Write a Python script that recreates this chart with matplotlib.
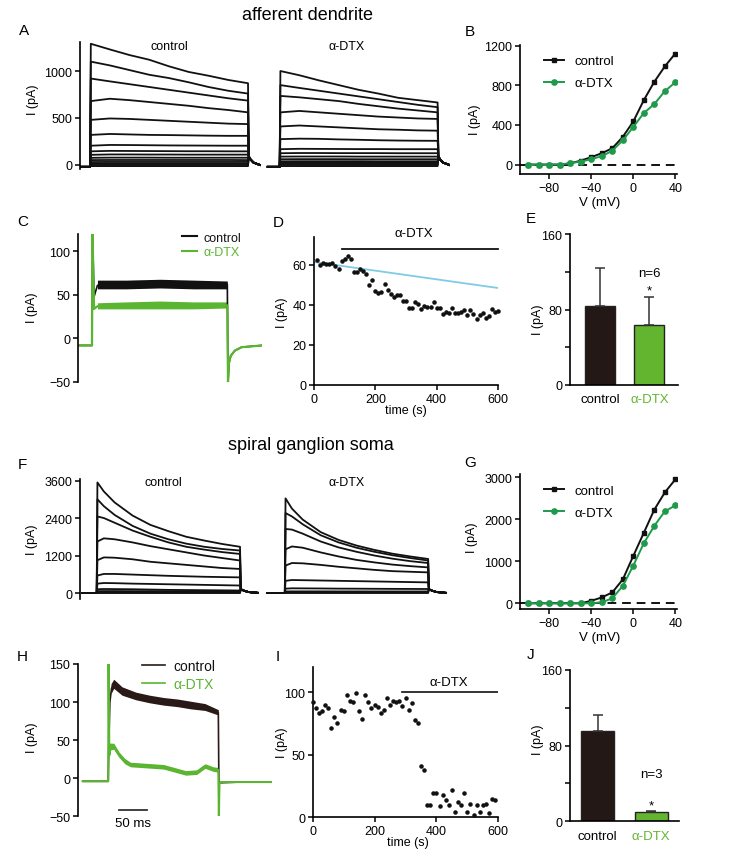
import matplotlib
matplotlib.use('Agg')
import matplotlib.pyplot as plt
from matplotlib.lines import Line2D

plt.rcParams['font.family'] = ['Liberation Sans', 'DejaVu Sans']
plt.rcParams['font.size'] = 9

# ---------------- DATA ----------------
# Panel A: afferent dendrite current traces (pA) sampled at times (ms)
a_times = [0, 25, 50, 75, 100, 125, 150, 175, 200]
a_ctrl = [
    [1290, 1230, 1170, 1120, 1050, 990, 950, 905, 870],
    [1100, 1060, 1010, 960, 925, 880, 830, 790, 760],
    [920, 890, 860, 830, 800, 770, 740, 710, 685],
    [680, 705, 690, 670, 650, 630, 605, 585, 560],
    [480, 495, 490, 480, 470, 460, 450, 440, 435],
    [320, 330, 325, 320, 318, 315, 312, 310, 310],
    [205, 213, 212, 210, 208, 207, 206, 205, 205],
    [145, 150, 149, 148, 147, 146, 146, 145, 145],
    [108, 112, 112, 111, 111, 110, 110, 110, 110],
    [76, 78, 78, 78, 77, 77, 77, 77, 77],
    [52, 53, 53, 53, 53, 53, 53, 53, 52],
    [31, 32, 32, 32, 32, 32, 32, 32, 32],
    [13, 14, 14, 14, 14, 14, 14, 14, 14],
    [0, 0, 0, 0, 0, 0, 0, 0, 0],
    [-12, -12, -12, -12, -12, -12, -12, -12, -12],
]
a_dtx = [
    [1000, 955, 900, 850, 800, 760, 715, 690, 665],
    [850, 820, 790, 760, 730, 700, 670, 640, 615],
    [735, 720, 700, 680, 650, 625, 600, 580, 560],
    [560, 575, 560, 545, 530, 515, 505, 495, 490],
    [410, 420, 410, 400, 390, 380, 375, 368, 365],
    [275, 280, 278, 272, 268, 263, 260, 258, 257],
    [168, 172, 171, 170, 169, 169, 168, 168, 168],
    [125, 127, 127, 126, 126, 126, 125, 125, 125],
    [89, 90, 90, 90, 89, 89, 89, 89, 89],
    [61, 62, 62, 62, 61, 61, 61, 61, 61],
    [39, 40, 40, 40, 40, 39, 39, 39, 39],
    [25, 25, 25, 25, 25, 25, 25, 25, 25],
    [11, 11, 11, 11, 11, 11, 11, 11, 11],
    [0, 0, 0, 0, 0, 0, 0, 0, 0],
    [-12, -12, -12, -12, -12, -12, -12, -12, -12],
]
a_base = -20
a_tail_t = [201, 203, 207, 215]
a_tail_v = [90, 60, 25, 0]

# Panel B: I-V afferent dendrite
iv_v = [-100, -90, -80, -70, -60, -50, -40, -30, -20, -10, 0, 10, 20, 30, 40]
b_ctrl = [0, 0, 0, 0, 12, 40, 75, 115, 165, 280, 435, 650, 835, 990, 1120]
b_dtx = [0, 0, 0, 0, 15, 30, 55, 85, 140, 245, 380, 520, 610, 740, 830]

# Panel C: example traces (pA) vs time (ms)
c_t = [-20, 0, 0.8, 3, 8, 50, 100, 150, 199, 200, 201.5, 204, 210, 220, 235, 250]
c_ctrl = [-8, -8, 120, 48, 61, 62, 62, 62, 62, -50, -28, -20, -14, -10, -9, -8]
c_dtx = [-8, -8, 120, 34, 37, 38, 38, 38, 38, -50, -28, -20, -14, -10, -9, -8]
c_env_t = [8, 50, 100, 150, 199]
c_ctrl_lo = [57, 57, 58, 57, 57]
c_ctrl_hi = [67, 67, 68, 67, 66]
c_dtx_lo = [34, 34, 34, 34, 35]
c_dtx_hi = [41, 42, 43, 42, 42]

# Panel D: time course (s, pA)
d_t = [10, 20, 30, 40, 50, 60, 70, 80, 90, 100, 110, 120, 130, 140, 150, 160, 170, 180, 190, 200,
       210, 220, 230, 240, 250, 260, 270, 280, 290, 300, 310, 320, 330, 340, 350, 360, 370, 380, 390, 400,
       410, 420, 430, 440, 450, 460, 470, 480, 490, 500, 510, 520, 530, 540, 550, 560, 570, 580, 590, 600]
d_v = [62.5, 60, 61, 60.5, 60.5, 61, 59.5, 58, 62, 63, 64.5, 63, 56.5, 56.5, 58, 57, 55.5, 50, 52.5, 47,
       46, 46.5, 50.5, 47.5, 45.5, 44, 45, 45, 42, 42, 38.5, 38.5, 41.5, 40.5, 38, 39.5, 39, 39, 41.5, 38.5,
       38.5, 35.5, 36.5, 36, 38.5, 36, 36, 36.5, 37.5, 35, 37.5, 35.5, 33, 35, 36, 33.5, 34.5, 38, 36.5, 37]
d_fit_t = [0, 600]
d_fit_v = [61.5, 48.5]
d_bar_t = [90, 600]
d_bar_v = 68

# Panel E: bar summary
bar_cats = ['control', 'α-DTX']
e_mean = [84, 63.5]
e_err = [40, 30]

# Panel F: spiral ganglion soma traces
f_times = [0, 10, 25, 50, 75, 100, 125, 150, 175, 200]
f_ctrl = [
    [3540, 3250, 2900, 2480, 2180, 1980, 1800, 1680, 1570, 1480],
    [3000, 2780, 2500, 2150, 1900, 1720, 1580, 1480, 1410, 1360],
    [2450, 2400, 2250, 2000, 1800, 1620, 1480, 1390, 1310, 1250],
    [1650, 1750, 1720, 1620, 1500, 1400, 1300, 1200, 1120, 1040],
    [1050, 1140, 1130, 1080, 1000, 950, 900, 850, 800, 770],
    [560, 610, 610, 590, 570, 550, 535, 520, 510, 500],
    [300, 320, 315, 300, 290, 280, 270, 260, 250, 240],
    [120, 128, 125, 120, 110, 100, 95, 90, 85, 80],
    [60, 62, 62, 60, 60, 58, 58, 56, 56, 55],
    [30, 30, 30, 30, 30, 30, 30, 30, 30, 30],
    [12, 12, 12, 12, 12, 12, 12, 12, 12, 12],
    [0, 0, 0, 0, 0, 0, 0, 0, 0, 0],
]
f_dtx = [
    [3030, 2700, 2350, 1950, 1700, 1520, 1380, 1260, 1170, 1090],
    [2560, 2450, 2200, 1850, 1620, 1450, 1320, 1210, 1120, 1040],
    [2050, 2030, 1900, 1650, 1460, 1320, 1200, 1100, 1020, 960],
    [1400, 1490, 1450, 1300, 1170, 1060, 980, 910, 860, 820],
    [880, 960, 950, 900, 840, 790, 740, 700, 680, 660],
    [390, 416, 410, 400, 390, 380, 370, 360, 350, 340],
    [140, 150, 148, 145, 140, 138, 135, 132, 130, 128],
    [50, 52, 52, 52, 51, 51, 50, 50, 50, 50],
    [20, 20, 20, 20, 20, 20, 20, 20, 20, 20],
    [0, 0, 0, 0, 0, 0, 0, 0, 0, 0],
]
f_base = 0
f_tail_t = [201, 206, 212, 225]
f_tail_v = [120, 70, 30, 5]

# Panel G: I-V soma
g_ctrl = [0, 0, 0, 0, 0, 0, 60, 140, 260, 570, 1130, 1680, 2230, 2640, 2950]
g_dtx = [0, 0, 0, 0, 0, 0, 0, 25, 120, 415, 900, 1430, 1845, 2190, 2330]

# Panel H: example soma traces
h_ctrl_t = [-46, 0, 1, 3, 6, 10, 25, 50, 75, 100, 125, 150, 175, 199, 200, 202, 240, 296]
h_ctrl_v = [-4, -4, 40, 100, 118, 124, 114, 108, 104, 101, 99, 96, 93, 86, -5, -6, -5, -5]
h_dtx_t = [-46, 0, 0.6, 2, 5, 10, 20, 30, 40, 60, 80, 100, 120, 140, 160, 175, 190, 199, 200, 201, 203, 240, 296]
h_dtx_v = [-4, -4, 150, 30, 44, 42, 30, 22, 18, 17, 16, 15, 11, 7, 8, 16, 12, 11, -50, -8, -5, -5, -5]
h_ctrl_env_t = [5, 10, 25, 50, 75, 100, 125, 150, 175, 199]
h_ctrl_lo = [111, 118, 109, 103, 99, 96, 94, 91, 89, 83]
h_ctrl_hi = [124, 130, 120, 113, 109, 106, 104, 101, 98, 90]
h_dtx_env_t = [3, 10, 20, 30, 40, 60, 80, 100, 120, 140, 160, 175, 190, 199]
h_dtx_lo = [37, 38, 27, 19, 15, 14, 13, 12, 8, 4, 5, 13, 9, 8]
h_dtx_hi = [46, 46, 34, 26, 21, 20, 19, 18, 14, 10, 11, 19, 15, 14]

# Panel I: time course soma
i_t = [0, 10, 20, 30, 40, 50, 60, 70, 80, 90, 100, 110, 120, 130, 140, 150, 160, 170, 180, 190,
       200, 210, 220, 230, 240, 250, 260, 270, 280, 290, 300, 310, 320, 330, 340, 350, 360, 370, 380, 390,
       400, 410, 420, 430, 440, 450, 460, 470, 480, 490, 500, 510, 520, 530, 540, 550, 560, 570, 580, 590]
i_v = [92, 87, 83, 85, 89.5, 87, 71, 80, 75, 86, 85, 98, 93, 92, 99.5, 85, 78.5, 98, 92, 87,
       89.5, 88, 83, 85.5, 95.5, 90, 93, 92, 93, 89, 95.5, 86, 91.5, 78, 75.5, 41, 38, 10, 10, 19.5,
       19.5, 9, 18, 13.5, 10, 21.5, 4, 12.5, 9.5, 19.5, 4.5, 10.5, 2, 10, 4.5, 9.5, 10.5, 3.5, 14.5, 14]
i_bar_t = [290, 600]
i_bar_v = 100

# Panel J
j_mean = [95.5, 9.5]
j_err = [17, 1.8]

# ---------------- STYLE ----------------
BLACK = '#111111'
IV_GREEN = '#1e9a4a'
TR_GREEN = '#5ab531'
BAR_GREEN = '#63b52f'
BAR_DARK = '#231815'
H_DARK = '#2a1a17'
CYAN = '#7fcbe6'

W, H = 740, 854
fig = plt.figure(figsize=(W / 100, H / 100), dpi=100)


def ax_px(l, t, r, b):
    return fig.add_axes([l / W, 1 - b / H, (r - l) / W, (b - t) / H])


def style(ax, bottom=True):
    ax.spines['top'].set_visible(False)
    ax.spines['right'].set_visible(False)
    ax.spines['left'].set_linewidth(1.2)
    ax.spines['bottom'].set_linewidth(1.2)
    if not bottom:
        ax.spines['bottom'].set_visible(False)
        ax.set_xticks([])
    ax.tick_params(direction='out', length=3.5, width=1.1, labelsize=9, pad=2)
    ax.patch.set_alpha(0)


def ftext(x, y, s, **kw):
    fig.text(x / W, 1 - y / H, s, **kw)


def draw_sweeps(ax, times, sweeps, offset, base, base_start, tail_t, tail_v, color, lw):
    for vals in sweeps:
        xs = [base_start, times[0], times[0] + 1.0] + list(times[1:]) + list(tail_t)
        ys = [base, base] + list(vals) + list(tail_v)
        ax.plot([x + offset for x in xs], ys, color=color, lw=lw, solid_joinstyle='round')


# ---- Titles and letters ----
ftext(307, 15, 'afferent dendrite', ha='center', va='center', fontsize=13)
ftext(311, 446, 'spiral ganglion soma', ha='center', va='center', fontsize=13)
for lab, x, y in [('A', 24, 31), ('B', 470, 32), ('C', 23, 222), ('D', 278, 223), ('E', 531, 219),
                  ('F', 22, 465), ('G', 470, 463), ('H', 22, 657), ('I', 278, 657), ('J', 531, 655)]:
    ftext(x, y, lab, ha='center', va='center', fontsize=11)

for x, y in [(33, 100), (475, 120), (32, 308), (282, 313), (538, 320),
             (32, 540), (472, 538), (32, 738), (282, 743), (538, 740)]:
    ftext(x, y, 'I (pA)', ha='center', va='center', rotation=90, fontsize=9)

# ---- Panel A ----
axA = ax_px(80, 43, 450, 170)
style(axA, bottom=False)
axA.set_xlim(-12.7, 455.7)
axA.set_ylim(-43, 1309)
axA.set_yticks([0, 500, 1000])
draw_sweeps(axA, a_times, a_ctrl, 0, a_base, -12.7, a_tail_t, a_tail_v, BLACK, 1.3)
draw_sweeps(axA, a_times, a_dtx, 240, a_base, -15, a_tail_t, a_tail_v, BLACK, 1.3)
ftext(169, 47, 'control', ha='center', va='center', fontsize=9)
ftext(347, 47, 'α-DTX', ha='center', va='center', fontsize=9)

# ---- Panel B ----
def iv_panel(ax, ctrl, dtx, ylim, yticks):
    style(ax)
    ax.set_xlim(-108, 42)
    ax.set_ylim(*ylim)
    ax.set_xticks([-80, -40, 0, 40])
    ax.set_yticks(yticks)
    ax.plot([-108, 42], [0, 0], color=BLACK, lw=1.4, ls=(0, (4.5, 3)))
    ax.plot(iv_v, ctrl, color=BLACK, lw=1.4, marker='s', ms=3.5, label='control')
    ax.plot(iv_v, dtx, color=IV_GREEN, lw=1.4, marker='o', ms=3.8, label='α-DTX')
    ax.legend(loc='upper left', bbox_to_anchor=(0.12, 0.96), frameon=False, fontsize=9.5,
              handlelength=1.5, labelspacing=0.75, handletextpad=0.8, borderaxespad=0)

axB = ax_px(520, 45.6, 677.4, 175)
iv_panel(axB, b_ctrl, b_dtx, (-95, 1210), [0, 400, 800, 1200])
ftext(600, 203, 'V (mV)', ha='center', va='center', fontsize=9.5)

# ---- Panel C ----
axC = ax_px(78, 235, 262, 383)
style(axC, bottom=False)
axC.set_xlim(-20.6, 250)
axC.set_ylim(-50, 120)
axC.set_yticks([-50, 0, 50, 100])
axC.fill_between(c_env_t, c_ctrl_lo, c_ctrl_hi, color=BLACK, lw=0)
axC.plot(c_t, c_ctrl, color=BLACK, lw=1.2)
axC.fill_between(c_env_t, c_dtx_lo, c_dtx_hi, color=TR_GREEN, lw=0)
axC.plot(c_t, c_dtx, color=TR_GREEN, lw=1.6)
hC = [Line2D([], [], color=BLACK, lw=1.5), Line2D([], [], color=TR_GREEN, lw=1.5)]
axC.legend(hC, ['control', 'α-DTX'], loc='upper left', bbox_to_anchor=(0.54, 1.05), frameon=False,
           fontsize=9, handlelength=1.2, handletextpad=0.5, labelspacing=0.2,
           labelcolor=[BLACK, TR_GREEN], borderaxespad=0)

# ---- Panel D ----
axD = ax_px(314, 238, 498, 386)
style(axD)
axD.set_xlim(0, 600)
axD.set_ylim(0, 74)
axD.set_xticks([0, 200, 400, 600])
axD.set_yticks([0, 20, 40, 60])
axD.plot(d_fit_t, d_fit_v, color=CYAN, lw=1.3)
axD.scatter(d_t, d_v, s=5, color=BLACK, zorder=3, clip_on=False)
axD.plot(d_bar_t, [d_bar_v, d_bar_v], color=BLACK, lw=1.3, clip_on=False)
axD.text(325, 76, 'α-DTX', ha='center', va='center', fontsize=9.5, clip_on=False)
ftext(406, 411, 'time (s)', ha='center', va='center', fontsize=9)

# ---- Panel E / J bars ----
def bar_panel(ax, means, errs, xlim, width, ntext, ny, stary):
    style(ax)
    ax.set_xlim(*xlim)
    ax.set_ylim(0, 160)
    ax.set_yticks([0, 80, 160])
    ax.set_yticks([40, 120], minor=True)
    ax.tick_params(axis='y', which='minor', direction='out', length=3.5, width=1.1)
    ax.bar([0, 1], means, width=width, color=[BAR_DARK, BAR_GREEN], edgecolor='#222222', lw=1.0, zorder=2)
    ax.errorbar([0, 1], means, yerr=[[0, 0], errs], fmt='none', ecolor='#333333', elinewidth=1.1,
                capsize=3.5, capthick=1.1, zorder=3)
    ax.set_xticks([0, 1])
    ax.set_xticklabels(bar_cats, fontsize=9.5)
    ax.get_xticklabels()[1].set_color(BAR_GREEN)
    ax.tick_params(axis='x', length=0, pad=6)
    ax.text(1, ny, ntext, ha='center', va='center', fontsize=9.5)
    ax.text(1, stary, '*', ha='center', va='center', fontsize=9.5)

axE = ax_px(570, 235, 678, 386)
bar_panel(axE, e_mean, e_err, (-0.61, 1.58), 0.61, 'n=6', 118.7, 100)

axJ = ax_px(570, 670.7, 679, 822.3)
bar_panel(axJ, j_mean, j_err, (-0.517, 1.517), 0.62, 'n=3', 50, 17)

# ---- Panel F ----
axF = ax_px(80, 480, 450, 600)
style(axF, bottom=False)
axF.set_xlim(-23.3, 493)
axF.set_ylim(-192, 3650)
axF.set_yticks([0, 1200, 2400, 3600])
draw_sweeps(axF, f_times, f_ctrl, 0, f_base, -20, f_tail_t, f_tail_v, BLACK, 1.3)
draw_sweeps(axF, f_times, f_dtx, 262.5, f_base, -25, f_tail_t, f_tail_v, BLACK, 1.3)
ftext(163, 483, 'control', ha='center', va='center', fontsize=9)
ftext(347, 483, 'α-DTX', ha='center', va='center', fontsize=9)

# ---- Panel G ----
axG = ax_px(520, 475, 677.4, 610)
iv_panel(axG, g_ctrl, g_dtx, (-136, 3080), [0, 1000, 2000, 3000])
ftext(600, 638, 'V (mV)', ha='center', va='center', fontsize=9.5)

# ---- Panel H ----
axH = ax_px(78, 665, 272, 817.3)
style(axH, bottom=False)
axH.set_xlim(-54.6, 296)
axH.set_ylim(-50, 150)
axH.set_yticks([-50, 0, 50, 100, 150])
axH.fill_between(h_ctrl_env_t, h_ctrl_lo, h_ctrl_hi, color=H_DARK, lw=0)
axH.plot(h_ctrl_t, h_ctrl_v, color=H_DARK, lw=1.2)
axH.fill_between(h_dtx_env_t, h_dtx_lo, h_dtx_hi, color=TR_GREEN, lw=0)
axH.plot(h_dtx_t, h_dtx_v, color=TR_GREEN, lw=1.5)
axH.plot([20, 70], [-41.5, -41.5], color='#333333', lw=1.3, clip_on=False)
axH.text(45, -59, '50 ms', ha='center', va='center', fontsize=9.5, clip_on=False)
hH = [Line2D([], [], color=H_DARK, lw=1.2), Line2D([], [], color=TR_GREEN, lw=1.2)]
axH.legend(hH, ['control', 'α-DTX'], loc='upper left', bbox_to_anchor=(0.30, 1.07), frameon=False,
           fontsize=10, handlelength=1.7, handletextpad=0.55, labelspacing=0.3,
           labelcolor=[BLACK, TR_GREEN], borderaxespad=0)

# ---- Panel I ----
axI = ax_px(312.7, 668, 498.3, 818.3)
style(axI)
axI.set_xlim(0, 600)
axI.set_ylim(0, 120)
axI.set_xticks([0, 200, 400, 600])
axI.set_yticks([0, 50, 100])
axI.scatter(i_t, i_v, s=5, color=BLACK, zorder=3, clip_on=False)
axI.plot(i_bar_t, [i_bar_v, i_bar_v], color=BLACK, lw=1.2)
axI.text(440, 108, 'α-DTX', ha='center', va='center', fontsize=9.5)
ftext(408, 843, 'time (s)', ha='center', va='center', fontsize=9)

fig.savefig('out.png', dpi=100)
